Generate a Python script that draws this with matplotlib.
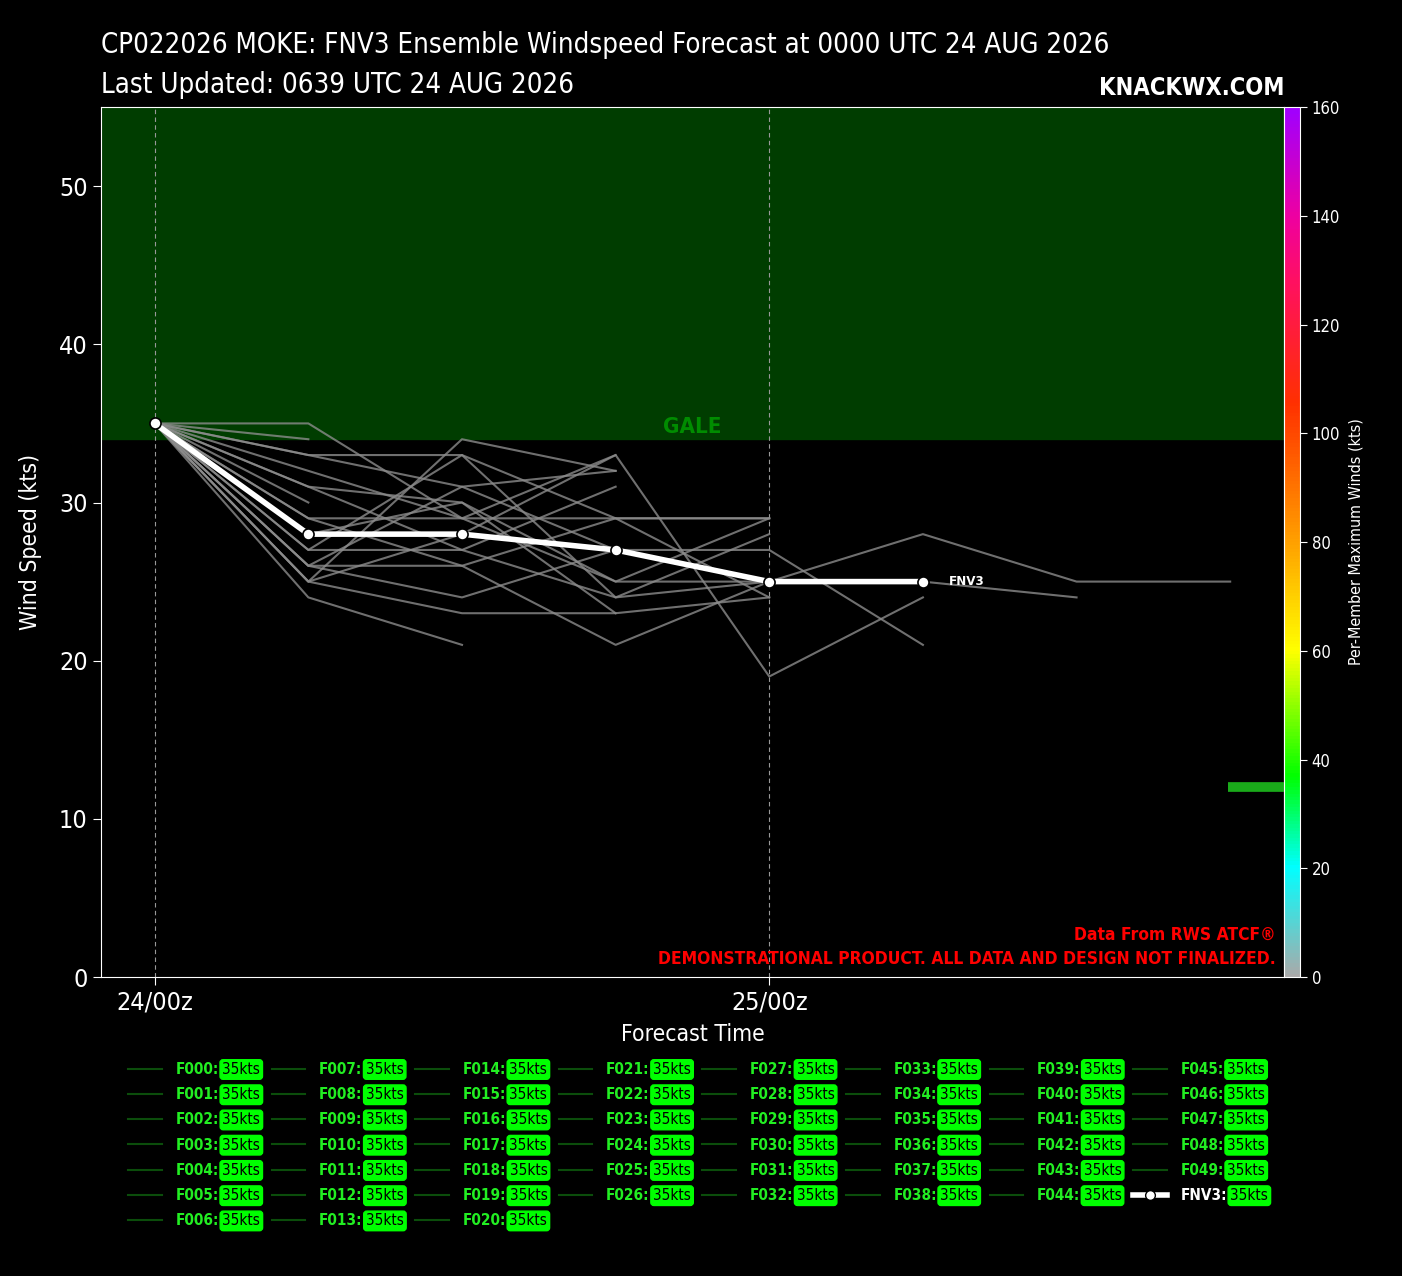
import numpy as np
import matplotlib
matplotlib.use("Agg")
import matplotlib.pyplot as plt
from matplotlib.colors import LinearSegmentedColormap, Normalize
from matplotlib.lines import Line2D
from matplotlib.text import Annotation

plt.rcParams['font.family'] = ['DejaVu Sans']
plt.rcParams['font.stretch'] = 'condensed'

# forecast hours and member wind speeds (kts)
hours = [0, 6, 12, 18, 24, 30, 36, 42]
members = [
    [35, 35, 29, 33, 19, 24],
    [35, 34],
    [35, 33, 33, 24, 28],
    [35, 32, 29, 29, 29],
    [35, 31, 27, 31],
    [35, 30],
    [35, 29, 29, 25, 29],
    [35, 28, 30, 25, 25],
    [35, 27, 27, 24, 25, 25, 24],
    [35, 26, 31, 32],
    [35, 26, 26, 21, 25, 28, 25, 25],
    [35, 25, 34, 32],
    [35, 25, 23, 23, 24],
    [35, 24, 21],
    [35, 26, 24, 27, 27, 21],
    [35, 25, 28, 33],
    [35, 27, 33, 29, 24],
    [35, 29, 26, 29, 29],
    [35, 31, 30, 23],
    [35, 33, 31, 27, 25],
]
fnv3 = [35, 28, 28, 27, 25, 25]
legend_names = ["F%03d" % i for i in range(50)]
legend_value = "35kts"
xtick_hours = [0, 24]
xtick_labels = ["24/00z", "25/00z"]
gale_kts = 34
cbar_ticks = [0, 20, 40, 60, 80, 100, 120, 140, 160]
cbar_marker_kts = 35

title1 = "CP022026 MOKE: FNV3 Ensemble Windspeed Forecast at 0000 UTC 24 AUG 2026"
title2 = "Last Updated: 0639 UTC 24 AUG 2026"

fig = plt.figure(figsize=(14.02, 12.76), dpi=100, facecolor='black')
ax = fig.add_axes([0.072, 0.2343, 0.8438, 0.6818])
ax.set_facecolor('black')
ax.set_xlim(-2.1, 44.1)
ax.set_ylim(0, 55)

ax.axhspan(gale_kts, 55, color='#003d00', zorder=0)
ax.text(21, gale_kts + 0.15, "GALE", color='#008c00', fontsize=16, fontweight='bold',
        ha='center', va='bottom', zorder=1)

for h in xtick_hours:
    ax.axvline(h, color='#999999', lw=0.8, ls=(0, (4, 3)), zorder=1)

for m in members:
    ax.plot(hours[:len(m)], m, color='#8c8c8c', lw=1.5, alpha=0.8, zorder=2)

ax.plot(hours[:len(fnv3)], fnv3, color='white', lw=4, marker='o', ms=8,
        mfc='white', mec='black', mew=1.2, zorder=4)
ax.text(hours[len(fnv3) - 1] + 1.0, fnv3[-1], "FNV3", color='white', fontsize=9.5,
        fontweight='bold', va='center', ha='left', zorder=5)

ax.set_xticks(xtick_hours)
ax.set_xticklabels(xtick_labels)
ax.set_yticks(range(0, 51, 10))
ax.tick_params(colors='white', labelsize=18, length=6)
for s in ax.spines.values():
    s.set_color('white')
ax.set_xlabel("Forecast Time", color='white', fontsize=16.5, labelpad=6)
ax.set_ylabel("Wind Speed (kts)", color='white', fontsize=16.5, labelpad=12)

ax.text(0.993, 0.01, "Data From RWS ATCF\u00ae\nDEMONSTRATIONAL PRODUCT. ALL DATA AND DESIGN NOT FINALIZED.",
        transform=ax.transAxes, color='red', fontsize=12.5, fontweight='bold',
        ha='right', va='bottom', linespacing=1.45, multialignment='right')

# colorbar of per-member max winds
cmap = LinearSegmentedColormap.from_list('winds', [
    (0.0, '#aaaaaa'), (0.125, '#00ffff'), (0.23, '#00ff00'), (0.375, '#ffff00'),
    (0.5, '#ffa000'), (0.66, '#ff3000'), (0.8, '#ff1060'), (0.875, '#ee00a0'),
    (1.0, '#a000ff')])
cax = fig.add_axes([0.9158, 0.2343, 0.0114, 0.6818])
sm = plt.cm.ScalarMappable(norm=Normalize(0, 160), cmap=cmap)
cb = fig.colorbar(sm, cax=cax, ticks=cbar_ticks)
cb.outline.set_edgecolor('white')
cax.tick_params(colors='white', labelsize=12, length=5)
cb.set_label("Per-Member Maximum Winds (kts)", color='white', fontsize=11.5, labelpad=6)
ax.plot([41.9, 44.1], [cbar_marker_kts / 160 * 55] * 2, color='#1aaa1a', lw=7,
        solid_capstyle='butt', zorder=6, clip_on=False)

fig.text(0.072, 0.965, title1, color='white', fontsize=19.8, ha='left', va='center')
fig.text(0.072, 0.933, title2, color='white', fontsize=19.8, ha='left', va='center')
fig.text(0.916, 0.931, "KNACKWX.COM", color='white', fontsize=17, fontweight='bold',
         ha='right', va='center')

handles = [Line2D([], [], color='#0b4d0b', lw=1.5) for _ in legend_names]
handles.append(Line2D([], [], color='white', lw=4, marker='o', ms=7, mfc='white', mec='black'))
labels = [n + ":" for n in legend_names] + ["FNV3:"]
leg = fig.legend(handles, labels, ncol=8, loc='upper center', bbox_to_anchor=(0.4833, 0.1737),
                 frameon=False, handlelength=2.2, handletextpad=0.9, columnspacing=3.45,
                 labelspacing=0.67, borderpad=0, prop={'weight': 'bold', 'size': 11})
for t in leg.get_texts():
    t.set_color('white' if t.get_text().startswith('FNV3') else '#22ee22')
    ann = Annotation(legend_value, xy=(1, 0.5), xycoords=t, xytext=(2.5, 0),
                     textcoords='offset points', ha='left', va='center', fontsize=11,
                     color='black', annotation_clip=False,
                     bbox=dict(boxstyle='round,pad=0.15,rounding_size=0.2', fc='#00ff00', ec='#00ff00'))
    ann.set_zorder(10)
    fig.add_artist(ann)

fig.savefig("out.png", dpi=100, facecolor='black')
